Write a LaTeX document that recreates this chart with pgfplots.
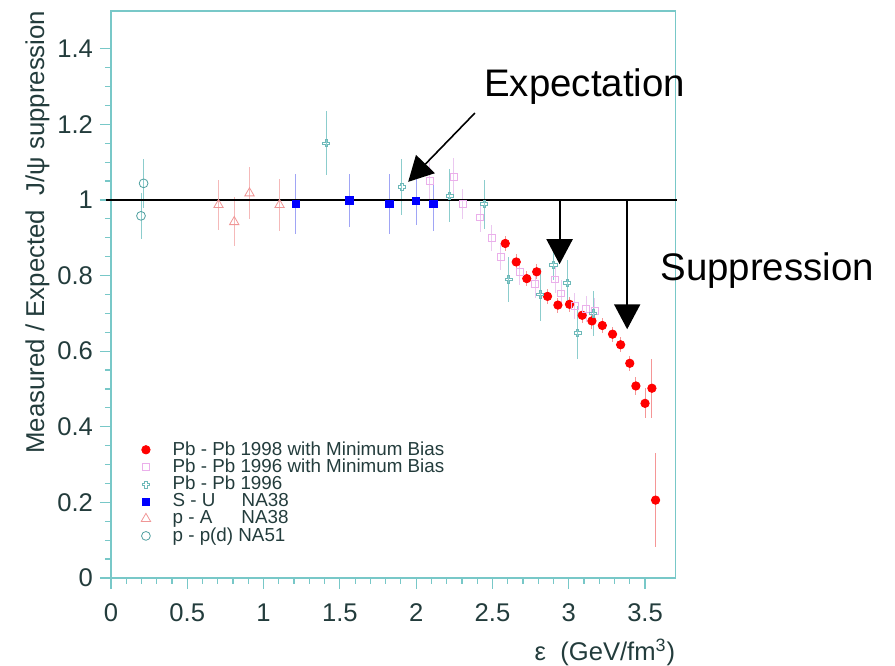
\documentclass[border=0pt]{standalone}
\usepackage{fontspec}
\setmainfont{Liberation Sans}
\usepackage{pgfplots}
\pgfplotsset{compat=1.18}
\usetikzlibrary{arrows.meta}

\definecolor{axcol}{RGB}{120,200,200}
\definecolor{labcol}{RGB}{35,60,60}
\definecolor{redpt}{RGB}{255,0,0}
\definecolor{rederr}{RGB}{245,150,150}
\definecolor{pinksq}{RGB}{235,175,235}
\definecolor{pinkerr}{RGB}{235,200,240}
\definecolor{tealx}{RGB}{110,185,185}
\definecolor{tealerr}{RGB}{140,205,205}
\definecolor{bluept}{RGB}{0,0,255}
\definecolor{blueerr}{RGB}{160,165,245}
\definecolor{pinktri}{RGB}{240,150,150}
\definecolor{pinktrierr}{RGB}{245,185,185}
\definecolor{tealcirc}{RGB}{80,160,160}

% open plus sign
\pgfdeclareplotmark{opencross}{%
  \pgfpathmoveto{\pgfqpoint{-0.35\pgfplotmarksize}{\pgfplotmarksize}}%
  \pgfpathlineto{\pgfqpoint{0.35\pgfplotmarksize}{\pgfplotmarksize}}%
  \pgfpathlineto{\pgfqpoint{0.35\pgfplotmarksize}{0.35\pgfplotmarksize}}%
  \pgfpathlineto{\pgfqpoint{\pgfplotmarksize}{0.35\pgfplotmarksize}}%
  \pgfpathlineto{\pgfqpoint{\pgfplotmarksize}{-0.35\pgfplotmarksize}}%
  \pgfpathlineto{\pgfqpoint{0.35\pgfplotmarksize}{-0.35\pgfplotmarksize}}%
  \pgfpathlineto{\pgfqpoint{0.35\pgfplotmarksize}{-\pgfplotmarksize}}%
  \pgfpathlineto{\pgfqpoint{-0.35\pgfplotmarksize}{-\pgfplotmarksize}}%
  \pgfpathlineto{\pgfqpoint{-0.35\pgfplotmarksize}{-0.35\pgfplotmarksize}}%
  \pgfpathlineto{\pgfqpoint{-\pgfplotmarksize}{-0.35\pgfplotmarksize}}%
  \pgfpathlineto{\pgfqpoint{-\pgfplotmarksize}{0.35\pgfplotmarksize}}%
  \pgfpathlineto{\pgfqpoint{-0.35\pgfplotmarksize}{0.35\pgfplotmarksize}}%
  \pgfpathclose
  \pgfusepathqstroke
}

\pgfplotstableread{
x y e
2.584 0.885 0.02
2.656 0.836 0.02
2.725 0.792 0.02
2.790 0.810 0.02
2.861 0.745 0.02
2.929 0.722 0.02
3.005 0.724 0.02
3.088 0.695 0.02
3.152 0.680 0.02
3.220 0.668 0.02
3.287 0.645 0.02
3.340 0.617 0.02
3.400 0.568 0.02
3.440 0.508 0.025
3.500 0.462 0.04
3.545 0.502 0.078
3.569 0.206 0.125
}\pbpbnew

\pgfplotstableread{
x y e
2.088 1.051 0.05
2.245 1.060 0.05
2.307 0.989 0.04
2.420 0.954 0.04
2.497 0.900 0.035
2.556 0.850 0.035
2.680 0.810 0.035
2.780 0.777 0.035
2.910 0.790 0.035
2.950 0.753 0.035
3.040 0.720 0.035
3.115 0.711 0.035
3.170 0.706 0.035
}\pbpbmb

\pgfplotstableread{
x y e
1.411 1.150 0.085
1.907 1.034 0.075
2.219 1.011 0.07
2.446 0.989 0.065
2.606 0.790 0.06
2.813 0.750 0.07
2.900 0.828 0.04
2.990 0.781 0.06
3.058 0.649 0.07
3.160 0.700 0.06
}\pbpbold

\pgfplotstableread{
x y e
1.212 0.989 0.08
1.562 0.999 0.07
1.824 0.989 0.08
2.000 0.998 0.065
2.114 0.989 0.07
}\su

\pgfplotstableread{
x y e
0.705 0.987 0.067
0.808 0.942 0.065
0.908 1.018 0.068
1.105 0.987 0.068
}\pA

\pgfplotstableread{
x y e
0.214 1.044 0.065
0.197 0.958 0.06
}\pp

\begin{document}
\begin{tikzpicture}
\begin{axis}[
  scale only axis,
  width=282.3pt, height=283.5pt,
  xmin=0, xmax=3.7, ymin=0, ymax=1.5,
  xtick={0,0.5,1,1.5,2,2.5,3,3.5},
  ytick={0,0.2,0.4,0.6,0.8,1,1.2,1.4},
  minor x tick num=4, minor y tick num=3,
  tick align=outside, tick pos=left,
  major tick length=5.5pt, minor tick length=3pt,
  axis line style={axcol, line width=0.6pt},
  every tick/.style={axcol, line width=0.6pt},
  tick label style={font=\fontsize{12.8}{14}\selectfont, text=labcol},
  xticklabel style={yshift=-4pt},
  /pgf/number format/assume math mode=true,
  xlabel={ε\ \ (GeV/fm\textsuperscript{3})},
  xlabel style={at={(axis description cs:1,-0.131)}, anchor=east, inner sep=0pt,
    font=\fontsize{12.8}{14}\selectfont, text=labcol},
  ylabel={Measured / Expected\ \ J/ψ suppression},
  ylabel style={at={(axis description cs:-0.13,0.61)}, anchor=center,
    font=\fontsize{12.9}{14}\selectfont, text=labcol},
  clip=false,
  legend style={draw=none, fill=none, at={(axis description cs:0.053,0.245)},
    anchor=north west, font=\fontsize{9.4}{10}\selectfont, text=labcol,
    row sep=-1.6pt, inner sep=0pt, nodes={inner sep=1pt},
    /tikz/every odd column/.append style={column sep=10pt}},
  legend cell align=left,
  legend image code/.code={\draw[mark repeat=2,mark phase=2] plot coordinates {(0pt,0pt) (5pt,0pt) (10pt,0pt)};},
  error bars/y dir=both, error bars/y explicit,
  error bars/error mark=none,
]
\addplot[only marks, mark=*, mark size=2.1pt, color=redpt,
  error bars/error bar style={rederr, line width=0.5pt}]
  table[x=x, y=y, y error=e] {\pbpbnew};
\addlegendentry{Pb - Pb 1998 with Minimum Bias}
\addplot[only marks, mark=square, mark size=1.7pt, color=pinksq,
  error bars/error bar style={pinkerr, line width=0.5pt}]
  table[x=x, y=y, y error=e] {\pbpbmb};
\addlegendentry{Pb - Pb 1996 with Minimum Bias}
\addplot[only marks, mark=opencross, mark size=1.8pt, color=tealx,
  error bars/error bar style={tealerr, line width=0.5pt}]
  table[x=x, y=y, y error=e] {\pbpbold};
\addlegendentry{Pb - Pb 1996}
\addplot[only marks, mark=square*, mark size=1.85pt, color=bluept,
  error bars/error bar style={blueerr, line width=0.5pt}]
  table[x=x, y=y, y error=e] {\su};
\addlegendentry{S - U\hspace{1.4em}NA38}
\addplot[only marks, mark=triangle, mark size=2.7pt, color=pinktri,
  error bars/error bar style={pinktrierr, line width=0.5pt}]
  table[x=x, y=y, y error=e] {\pA};
\addlegendentry{p - A\hspace{1.55em}NA38}
\addplot[only marks, mark=o, mark size=2.2pt, color=tealcirc,
  error bars/error bar style={tealerr, line width=0.5pt}]
  table[x=x, y=y, y error=e] {\pp};
\addlegendentry{p - p(d)\ NA51}

% expectation line and arrows
\draw[line width=1pt] (axis cs:-0.033,1) -- (axis cs:3.707,1);
\draw[line width=0.8pt, -{Triangle[length=12.4pt,width=13pt]}]
  (axis cs:2.385,1.230) -- (axis cs:1.948,1.048);
\draw[line width=1pt, -{Triangle[length=12.5pt,width=13pt]}]
  (axis cs:2.94,1) -- (axis cs:2.94,0.83);
\draw[line width=1pt, -{Triangle[length=12.5pt,width=13pt]}]
  (axis cs:3.383,1) -- (axis cs:3.383,0.658);
\node[anchor=base west, font=\fontsize{19.2}{22}\selectfont, inner sep=0pt]
  at (axis cs:2.444,1.275) {Expectation};
\node[anchor=base west, font=\fontsize{19.2}{22}\selectfont, inner sep=0pt]
  at (axis cs:3.598,0.786) {Suppression};
% page frame
\path (axis cs:-0.727,-0.230) rectangle (axis cs:5.138,1.529);
\end{axis}
\end{tikzpicture}
\end{document}
